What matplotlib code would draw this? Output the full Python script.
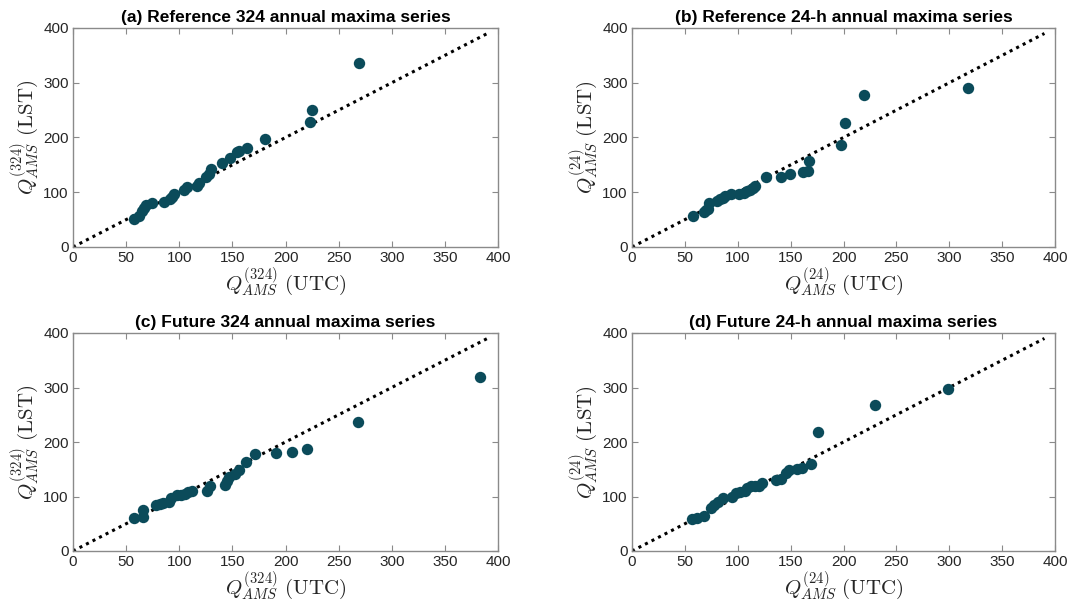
import matplotlib.pyplot as plt
import numpy as np

plt.rcParams['mathtext.fontset'] = 'cm'
plt.rcParams['font.family'] = ['Liberation Sans', 'DejaVu Sans']

# (a) reference 324
a_utc = [57, 62, 65, 67, 69, 74, 86, 91, 93, 95, 104, 107, 117, 119, 125, 128, 130,
         140, 148, 154, 156, 164, 181, 223, 225, 269]
a_lst = [52, 57, 66, 72, 77, 81, 82, 88, 92, 97, 104, 110, 112, 117, 127, 133, 142,
         153, 163, 173, 176, 181, 198, 229, 250, 336]

# (b) reference 24-h
b_utc = [58, 68, 70, 72, 73, 80, 83, 86, 88, 94, 101, 106, 109, 112, 114, 116, 127,
         141, 149, 162, 166, 167, 198, 201, 219, 318]
b_lst = [56, 64, 67, 70, 81, 84, 88, 90, 93, 97, 97, 99, 103, 104, 108, 112, 127,
         128, 133, 137, 139, 157, 187, 226, 278, 290]

# (c) future 324
c_utc = [57, 66, 66, 78, 82, 85, 90, 92, 98, 102, 105, 108, 112, 126, 129, 143, 145,
         147, 152, 156, 163, 171, 191, 206, 220, 268, 383]
c_lst = [60, 63, 76, 84, 87, 88, 89, 97, 103, 103, 105, 108, 111, 111, 120, 121, 129,
         136, 142, 148, 163, 178, 180, 182, 187, 236, 320]

# (d) future 24-h
d_utc = [57, 61, 68, 75, 78, 81, 86, 95, 98, 102, 107, 109, 113, 116, 120, 123, 136,
         141, 146, 148, 156, 161, 169, 176, 230, 299]
d_lst = [58, 61, 64, 78, 84, 89, 97, 100, 106, 109, 110, 115, 119, 119, 120, 125, 130,
         133, 143, 149, 151, 152, 160, 218, 268, 297]

titles = ['(a) Reference 324 annual maxima series',
          '(b) Reference 24-h annual maxima series',
          '(c) Future 324 annual maxima series',
          '(d) Future 24-h annual maxima series']
durations = ['324', '24', '324', '24']
xs = [a_utc, b_utc, c_utc, d_utc]
ys = [a_lst, b_lst, c_lst, d_lst]

W, H = 1067, 604
# pixel boxes: left, top, right, bottom
boxes = [(73, 28, 498, 247), (632, 28, 1055, 247),
         (73, 333, 498, 551), (632, 333, 1055, 551)]

fig = plt.figure(figsize=(W / 100, H / 100), dpi=100)
dot_color = '#0b4b5a'
edge = '#8a8a8a'

for i in range(4):
    l, t, r, b = boxes[i]
    ax = fig.add_axes([l / W, 1 - b / H, (r - l) / W, (b - t) / H])
    ax.plot([0, 390], [0, 390], color='black', linestyle=(0, (1, 1.4)),
            linewidth=2.2, zorder=2)
    ax.plot(xs[i], ys[i], 'o', color=dot_color, markersize=8.2,
            markeredgewidth=0, zorder=3)
    ax.set_xlim(0, 400)
    ax.set_ylim(0, 400)
    ax.set_xticks(np.arange(0, 401, 50))
    ax.set_yticks(np.arange(0, 401, 100))
    ax.tick_params(direction='in', top=True, right=True, length=4,
                   color=edge, labelsize=11, labelcolor='#262626', pad=3)
    for s in ax.spines.values():
        s.set_color(edge)
        s.set_linewidth(1.0)
    ax.set_title(titles[i], fontsize=12.5, fontweight='bold', pad=4)
    d = durations[i]
    ax.set_xlabel(r'$Q_{AMS}^{(' + d + r')}\ \mathrm{(UTC)}$', fontsize=15,
                  labelpad=0, color='#262626')
    ax.set_ylabel(r'$Q_{AMS}^{(' + d + r')}\ \mathrm{(LST)}$', fontsize=15,
                  labelpad=2, color='#262626')

fig.savefig('out.png', dpi=100)
